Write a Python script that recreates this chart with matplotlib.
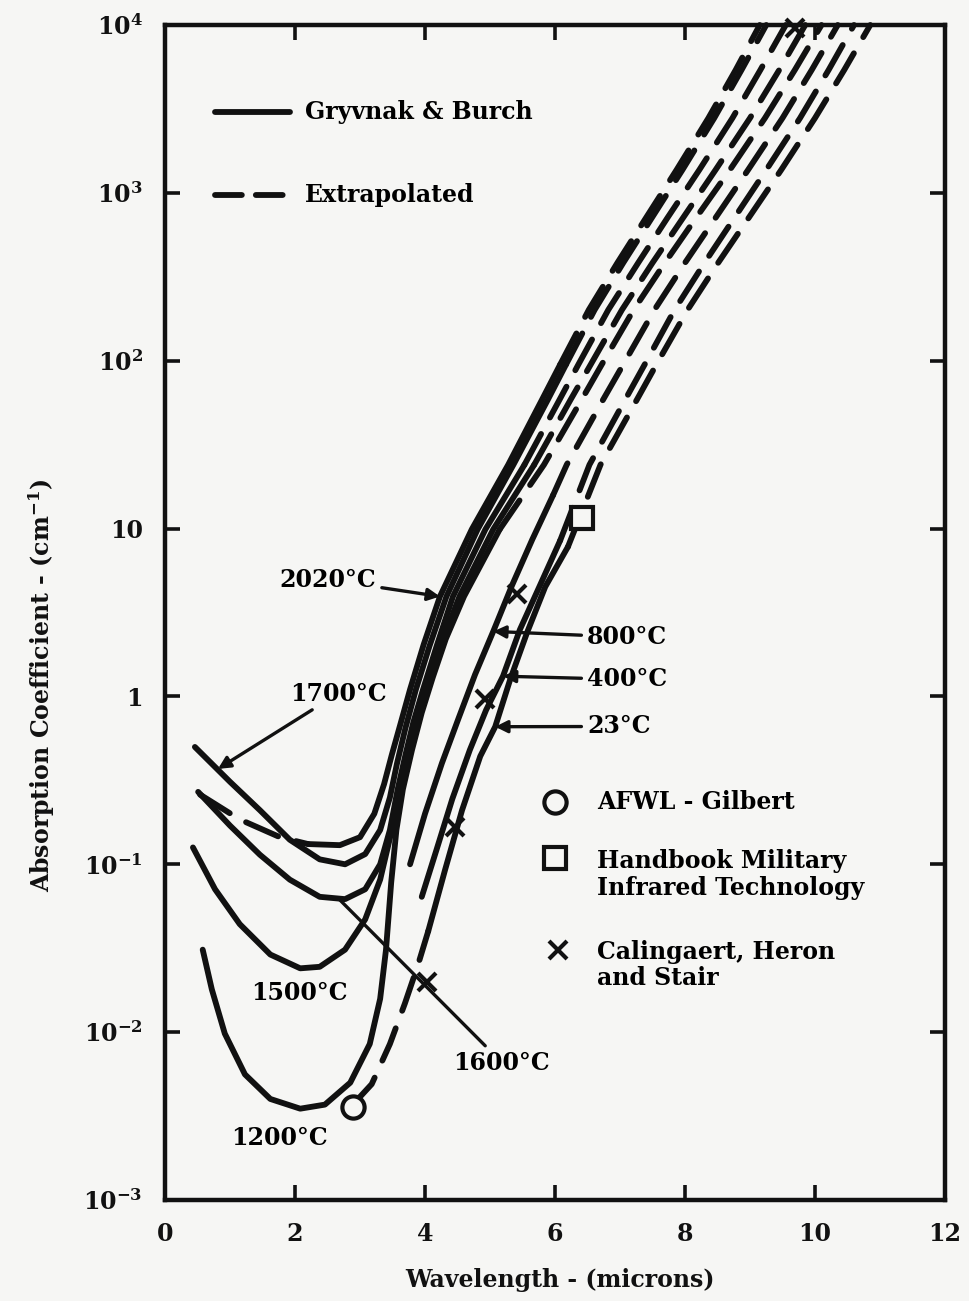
import matplotlib
matplotlib.use('Agg')
import matplotlib.pyplot as plt
from matplotlib.lines import Line2D
from matplotlib.ticker import NullLocator

plt.rcParams['font.family'] = ['DejaVu Serif']
plt.rcParams['font.weight'] = 'bold'
plt.rcParams['mathtext.fontset'] = 'dejavuserif'
plt.rcParams['mathtext.default'] = 'bf'

# --- valeurs ---
x_ticks = [0, 2, 4, 6, 8, 10, 12]
y_ticks = [1e-3, 1e-2, 1e-1, 1, 10, 1e2, 1e3, 1e4]
y_tick_labels = ['$10^{-3}$', '$10^{-2}$', '$10^{-1}$', '1', '10',
                 '$10^{2}$', '$10^{3}$', '$10^{4}$']

# 2020 C (partie gauche extrapolée)
t2020_x = [0.54, 1.15, 1.77, 2.20, 2.69, 3.00, 3.22, 3.37, 3.49, 3.62, 3.77, 3.98,
           4.23, 4.72, 5.28, 5.80, 6.08, 6.52, 6.96, 7.40, 7.87, 8.36, 8.78, 9.15]
t2020_y = [0.26, 0.185, 0.145, 0.132, 0.13, 0.145, 0.20, 0.30, 0.45, 0.68, 1.1, 2.04,
           3.94, 9.9, 24, 58.6, 95, 201, 383, 710, 1370, 2790, 5400, 10000]
t2020_solid = (2.20, 6.08)

t1700_x = [0.46, 1.00, 1.46, 1.92, 2.38, 2.77, 3.08, 3.31, 3.46, 3.57, 3.70, 3.86, 4.07,
           4.33, 4.81, 5.36, 5.89, 6.17, 6.61, 7.05, 7.49, 7.96, 8.45, 8.87, 9.25]
t1700_y = [0.50, 0.31, 0.21, 0.14, 0.107, 0.10, 0.115, 0.16, 0.25, 0.40, 0.65, 1.1, 2.0,
           3.94, 9.9, 24, 58.6, 95, 201, 383, 710, 1370, 2790, 5400, 10000]
t1700_solid = (0.46, 6.17)

t1600_x = [0.51, 1.00, 1.46, 1.92, 2.38, 2.77, 3.08, 3.31, 3.46, 3.58, 3.70, 3.82, 3.97,
           4.18, 4.43, 4.93, 5.53, 6.07, 6.36, 6.82, 7.28, 7.73, 8.22, 8.73, 9.16, 9.55]
t1600_y = [0.27, 0.17, 0.114, 0.081, 0.064, 0.062, 0.071, 0.10, 0.16, 0.28, 0.45, 0.70, 1.1,
           2.0, 3.94, 9.9, 24, 58.6, 95, 201, 383, 710, 1370, 2790, 5400, 10000]
t1600_solid = (0.51, 5.53)

t1500_x = [0.43, 0.77, 1.15, 1.62, 2.08, 2.38, 2.77, 3.08, 3.31, 3.49, 3.65, 3.80, 3.93,
           4.08, 4.28, 4.53, 5.05, 5.68, 6.24, 6.55, 7.03, 7.50, 7.97, 8.47, 9.00, 9.45, 9.85]
t1500_y = [0.126, 0.071, 0.044, 0.029, 0.024, 0.0245, 0.031, 0.047, 0.081, 0.16, 0.32, 0.55,
           0.85, 1.3, 2.2, 3.94, 9.9, 24, 58.6, 95, 201, 383, 710, 1370, 2790, 5400, 10000]
t1500_solid = (0.43, 5.68)

t1200_x = [0.58, 0.72, 0.92, 1.23, 1.62, 2.08, 2.46, 2.85, 3.15, 3.31, 3.40, 3.48, 3.56,
           3.66, 3.80, 3.95, 4.12, 4.32, 4.60, 5.15, 5.83, 6.41, 6.72, 7.21, 7.69, 8.17,
           8.69, 9.23, 9.69, 10.10]
t1200_y = [0.031, 0.018, 0.0098, 0.0056, 0.0040, 0.0035, 0.0037, 0.005, 0.0085, 0.0158,
           0.031, 0.078, 0.16, 0.28, 0.48, 0.80, 1.3, 2.2, 3.94, 9.9, 24, 58.6, 95, 201,
           383, 710, 1370, 2790, 5400, 10000]
t1200_solid = (0.58, 5.15)

t800_x = [3.77, 4.00, 4.26, 4.51, 4.77, 5.05, 5.34, 5.65, 5.97, 6.18, 6.74, 7.05, 7.53,
          8.00, 8.47, 8.97, 9.50, 9.95, 10.35]
t800_y = [0.10, 0.20, 0.40, 0.73, 1.35, 2.44, 4.6, 8.6, 15.8, 24, 58.6, 95, 201,
          383, 710, 1370, 2790, 5400, 10000]
t800_solid = (3.77, 5.97)

t400_x = [3.95, 4.18, 4.42, 4.69, 4.94, 5.20, 5.46, 5.77, 6.08, 6.53, 7.08, 7.38, 7.84,
          8.30, 8.76, 9.25, 9.77, 10.21, 10.60]
t400_y = [0.064, 0.123, 0.245, 0.48, 0.83, 1.32, 2.5, 4.6, 8.5, 24, 58.6, 95, 201,
          383, 710, 1370, 2790, 5400, 10000]
t400_solid = (3.95, 6.08)

t23_x = [2.89, 3.18, 3.46, 3.69, 3.89, 4.05, 4.31, 4.57, 4.85, 5.08, 5.31, 5.57, 5.85,
         6.20, 6.70, 7.26, 7.56, 8.04, 8.51, 8.98, 9.48, 10.00, 10.45, 10.85]
t23_y = [0.0037, 0.0049, 0.0085, 0.0148, 0.025, 0.040, 0.093, 0.21, 0.44, 0.66, 1.26,
         2.4, 4.5, 7.8, 24, 58.6, 95, 201, 383, 710, 1370, 2790, 5400, 10000]
t23_solid = (4.05, 6.20)

# points de mesure
afwl_x = [2.89]
afwl_y = [0.0036]
handbook_x = [6.42]
handbook_y = [11.6]
calingaert_x = [4.03, 4.46, 4.92, 5.42, 9.69]
calingaert_y = [0.020, 0.166, 0.96, 4.1, 9600]

ink = '#111111'
paper = '#f6f6f4'
lw = 4.2
dash = (6.0, 3.2)


def draw_curve(ax, xs, ys, solid):
	lo, hi = solid
	pts = list(zip(xs, ys))
	pre = [p for p in pts if p[0] <= lo]
	mid = [p for p in pts if lo <= p[0] <= hi]
	post = [p for p in pts if p[0] >= hi]
	for part, style in ((pre, 'dash'), (mid, 'solid'), (post, 'dash')):
		if len(part) < 2:
			continue
		px, py = zip(*part)
		line, = ax.plot(px, py, color=ink, lw=lw, solid_capstyle='round',
		                dash_capstyle='round', clip_on=False)
		if style == 'dash':
			line.set_dashes(dash)


fig = plt.figure(figsize=(9.7, 13.01), dpi=100, facecolor=paper)
ax = fig.add_axes([165 / 970, 101 / 1301, 780 / 970, 1175 / 1301])
ax.set_facecolor(paper)
ax.set_yscale('log')
ax.set_xlim(0, 12)
ax.set_ylim(1e-3, 1e4)

curves = [
	(t2020_x, t2020_y, t2020_solid),
	(t1700_x, t1700_y, t1700_solid),
	(t1600_x, t1600_y, t1600_solid),
	(t1500_x, t1500_y, t1500_solid),
	(t1200_x, t1200_y, t1200_solid),
	(t800_x, t800_y, t800_solid),
	(t400_x, t400_y, t400_solid),
	(t23_x, t23_y, t23_solid),
]
for xs, ys, solid in curves:
	draw_curve(ax, xs, ys, solid)

ax.plot(afwl_x, afwl_y, 'o', ms=16, mfc=paper, mec=ink, mew=3, clip_on=False, zorder=5)
ax.plot(handbook_x, handbook_y, 's', ms=16, mfc=paper, mec=ink, mew=3, clip_on=False, zorder=5)
ax.plot(calingaert_x, calingaert_y, 'x', ms=13, mec=ink, mew=3, clip_on=False, zorder=5)

# axes
ax.set_xticks(x_ticks)
ax.set_yticks(y_ticks)
ax.set_yticklabels(y_tick_labels)
ax.yaxis.set_minor_locator(NullLocator())
ax.tick_params(direction='in', length=11, width=2.6, labelsize=17, top=True, right=True,
               color=ink, labelcolor=ink)
ax.tick_params(axis='x', pad=16)
ax.tick_params(axis='y', pad=16)
for s in ax.spines.values():
	s.set_linewidth(3.2)
	s.set_color(ink)

fig.text(560 / 970, 1 - 1280 / 1301, 'Wavelength - (microns)', ha='center', va='center',
         fontsize=17, color=ink)
fig.text(42 / 970, 1 - 685 / 1301, 'Absorption Coefficient - (cm$^{-1}$)', ha='center',
         va='center', rotation=90, fontsize=17, color=ink)

# légende des lignes
fs = 17
ax.add_line(Line2D([0.064, 0.160], [0.926, 0.926], transform=ax.transAxes, color=ink,
                   lw=lw, solid_capstyle='round'))
dl = Line2D([0.064, 0.160], [0.855, 0.855], transform=ax.transAxes, color=ink, lw=lw,
            dash_capstyle='round')
dl.set_dashes((4.6, 2.4))
ax.add_line(dl)
ax.text(0.179, 0.926, 'Gryvnak & Burch', transform=ax.transAxes, va='center', fontsize=fs)
ax.text(0.179, 0.855, 'Extrapolated', transform=ax.transAxes, va='center', fontsize=fs)

# légende des symboles
ax.plot([0.5], [0.339], 'o', ms=16, mfc='none', mec=ink, mew=3, transform=ax.transAxes)
ax.plot([0.5], [0.291], 's', ms=16, mfc='none', mec=ink, mew=3, transform=ax.transAxes)
ax.plot([0.504], [0.213], 'x', ms=13, mec=ink, mew=3, transform=ax.transAxes)
ax.text(0.554, 0.339, 'AFWL - Gilbert', transform=ax.transAxes, va='center', fontsize=fs)
ax.text(0.554, 0.277, 'Handbook Military\nInfrared Technology', transform=ax.transAxes,
        va='center', fontsize=fs, linespacing=1.15)
ax.text(0.554, 0.200, 'Calingaert, Heron\nand Stair', transform=ax.transAxes,
        va='center', fontsize=fs, linespacing=1.15)

# étiquettes des températures
arrow = dict(arrowstyle='-|>', color=ink, lw=2.4, mutation_scale=18, shrinkA=2, shrinkB=0)
leader = dict(arrowstyle='-', color=ink, lw=2.4, shrinkA=2, shrinkB=0)
ax.annotate('2020°C', xy=(4.23, 3.94), xytext=(0.209, 0.528), textcoords='axes fraction',
            ha='center', va='center', fontsize=fs, arrowprops=arrow)
ax.annotate('1700°C', xy=(0.815, 0.37), xytext=(0.160, 0.431), textcoords='axes fraction',
            ha='left', va='center', fontsize=fs, arrowprops=arrow)
ax.annotate('1600°C', xy=(2.66, 0.063), xytext=(0.370, 0.117), textcoords='axes fraction',
            ha='left', va='center', fontsize=fs, arrowprops=leader)
ax.text(0.172, 0.176, '1500°C', transform=ax.transAxes, ha='center', va='center', fontsize=fs)
ax.text(0.147, 0.053, '1200°C', transform=ax.transAxes, ha='center', va='center', fontsize=fs)
ax.annotate('800°C', xy=(5.05, 2.44), xytext=(0.541, 0.479), textcoords='axes fraction',
            ha='left', va='center', fontsize=fs, arrowprops=arrow)
ax.annotate('400°C', xy=(5.20, 1.32), xytext=(0.541, 0.443), textcoords='axes fraction',
            ha='left', va='center', fontsize=fs, arrowprops=arrow)
ax.annotate('23°C', xy=(5.08, 0.66), xytext=(0.541, 0.403), textcoords='axes fraction',
            ha='left', va='center', fontsize=fs, arrowprops=arrow)

fig.savefig('out.png', dpi=100, facecolor=fig.get_facecolor())
